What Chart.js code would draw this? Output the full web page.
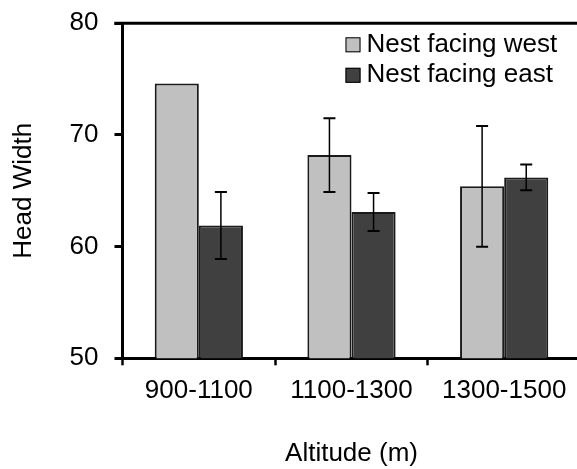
<!DOCTYPE html>
<html>
<head>
<meta charset="utf-8">
<script src="https://cdn.jsdelivr.net/npm/chart.js@4.4.1/dist/chart.umd.min.js"></script>
<style>
  html, body { margin: 0; padding: 0; background: #fff; overflow: hidden; }
  #wrap { width: 577px; height: 469px; overflow: hidden; }
  canvas { display: block; }
</style>
</head>
<body>
<div id="wrap"><canvas id="headChart" width="586" height="469"></canvas></div>
<script>
// Values
const altitudeBands = ['900-1100', '1100-1300', '1300-1500'];
const westMeans = [74.6, 68.2, 65.4];
const eastMeans = [61.9, 63.1, 66.2];
const westErrors = [0, 3.3, 5.4];
const eastErrors = [3.0, 1.7, 1.15];
const yTicks = [50, 60, 70, 80];
const seriesNames = ['Nest facing west', 'Nest facing east'];
const seriesColors = ['#c0c0c0', '#404040'];

const FONT = '"Liberation Sans", Arial, sans-serif';
Chart.defaults.font.family = FONT;
Chart.defaults.color = '#000';

// Draw the +/- error bars on top of each bar
const errorBars = {
    id: 'errorBars',
    afterDatasetsDraw(chart) {
        const ctx = chart.ctx;
        const yScale = chart.scales.y;
        ctx.save();
        ctx.strokeStyle = '#000';
        chart.data.datasets.forEach((ds, i) => {
            const meta = chart.getDatasetMeta(i);
            meta.data.forEach((bar, j) => {
                const err = ds.errors[j];
                if (!err) return;
                const v = ds.data[j];
                const yTop = yScale.getPixelForValue(v + err);
                const yBot = yScale.getPixelForValue(v - err);
                ctx.lineWidth = 1.5;
                ctx.beginPath();
                ctx.moveTo(bar.x, yTop);
                ctx.lineTo(bar.x, yBot);
                ctx.stroke();
                ctx.lineWidth = 2;
                ctx.beginPath();
                ctx.moveTo(bar.x - 6, yTop);
                ctx.lineTo(bar.x + 6, yTop);
                ctx.moveTo(bar.x - 6, yBot);
                ctx.lineTo(bar.x + 6, yBot);
                ctx.stroke();
            });
        });
        ctx.restore();
    }
};

// Top frame line and the legend inside the plot
const frameAndLegend = {
    id: 'frameAndLegend',
    afterDraw(chart) {
        const ctx = chart.ctx;
        const area = chart.chartArea;
        ctx.save();
        ctx.strokeStyle = '#000';
        ctx.lineWidth = 3;
        ctx.beginPath();
        ctx.moveTo(area.left - 8, area.top);
        ctx.lineTo(chart.width, area.top);
        ctx.stroke();

        ctx.font = '26px ' + FONT;
        ctx.textBaseline = 'middle';
        chart.data.datasets.forEach((ds, i) => {
            const bx = area.left + 223;
            const by = area.top + 14 + i * 30.5;
            ctx.fillStyle = ds.backgroundColor;
            ctx.fillRect(bx, by, 15, 15);
            ctx.lineWidth = 1;
            ctx.strokeRect(bx + 0.5, by + 0.5, 14, 14);
            ctx.fillStyle = '#000';
            ctx.fillText(ds.label, bx + 21, by + 7.5);
        });
        ctx.restore();
    }
};

new Chart(document.getElementById('headChart'), {
    type: 'bar',
    data: {
        labels: altitudeBands,
        datasets: [{
            label: seriesNames[0],
            data: westMeans,
            errors: westErrors,
            backgroundColor: seriesColors[0],
            borderColor: '#1a1a1a',
            borderWidth: 2
        }, {
            label: seriesNames[1],
            data: eastMeans,
            errors: eastErrors,
            backgroundColor: seriesColors[1],
            borderColor: '#1a1a1a',
            borderWidth: 2
        }]
    },
    options: {
        responsive: false,
        animation: false,
        categoryPercentage: 0.578,
        barPercentage: 1.0,
        layout: { padding: { left: 0, top: 23.3, right: 5.5, bottom: 0 } },
        plugins: {
            legend: { display: false },
            tooltip: { enabled: false }
        },
        scales: {
            x: {
                grid: { offset: true, drawOnChartArea: false, tickLength: 7, tickWidth: 2.5, tickColor: '#000' },
                border: { color: '#000', width: 3 },
                ticks: { font: { size: 26 }, padding: 10, maxRotation: 0 },
                title: { display: true, text: 'Altitude (m)', font: { size: 26 }, padding: { top: 0, bottom: 0 } },
                afterFit(scale) { scale.height = 110.7; }
            },
            y: {
                min: 50,
                max: 80,
                afterBuildTicks(scale) { scale.ticks = yTicks.map(v => ({ value: v })); },
                grid: { drawOnChartArea: false, tickLength: 8, tickWidth: 3, tickColor: '#000' },
                border: { color: '#000', width: 3 },
                ticks: { font: { size: 26 }, padding: 16 },
                title: { display: true, text: 'Head Width', font: { size: 26 }, padding: { top: 8.4, bottom: 0 } },
                afterFit(scale) {
                    scale.width = 122.5;
                    scale.paddingTop = 0;
                    scale.paddingBottom = 0;
                }
            }
        }
    },
    plugins: [errorBars, frameAndLegend]
});
</script>
</body>
</html>
